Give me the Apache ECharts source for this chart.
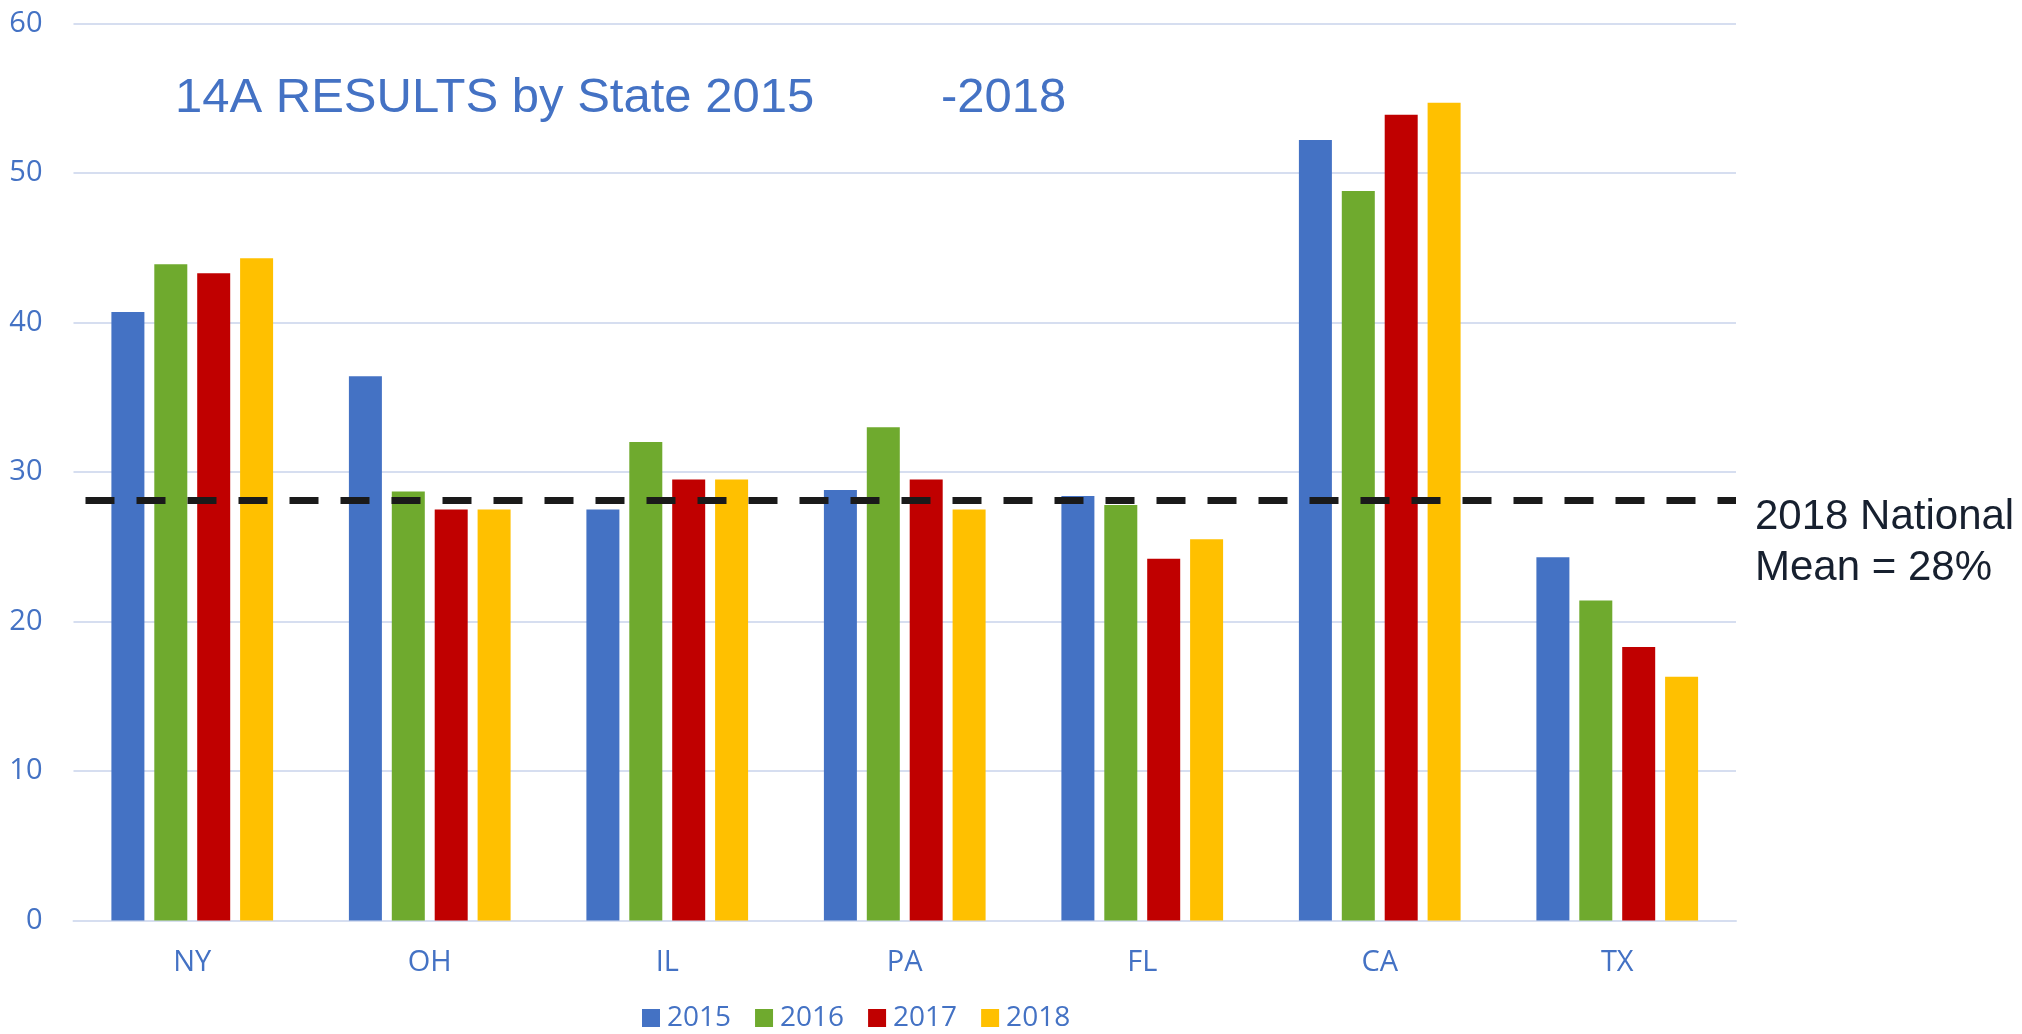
<!DOCTYPE html>
<html>
<head>
<meta charset="utf-8">
<script src="https://cdn.jsdelivr.net/npm/echarts@6/dist/echarts.min.js"></script>
<style>
  html, body { margin: 0; padding: 0; background: #fff; }
  #chart { width: 2022px; height: 1034px; }
</style>
</head>
<body>
<div id="chart"></div>
<script>
const states = ['NY', 'OH', 'IL', 'PA', 'FL', 'CA', 'TX'];
const years = ['2015', '2016', '2017', '2018'];
const v2015 = [40.7, 36.4, 27.5, 28.8, 28.4, 52.2, 24.3];
const v2016 = [43.9, 28.7, 32.0, 33.0, 27.8, 48.8, 21.4];
const v2017 = [43.3, 27.5, 29.5, 29.5, 24.2, 53.9, 18.3];
const v2018 = [44.3, 27.5, 29.5, 27.5, 25.5, 54.7, 16.3];
const nationalMean = 28.1;

const colors = ['#4472C4', '#6FAA2E', '#C00000', '#FFC000'];
const axisFont = 'Open Sans';

const chart = echarts.init(document.getElementById('chart'));

const barSeries = [v2015, v2016, v2017, v2018].map((data, i) => ({
  name: years[i],
  type: 'bar',
  data: data,
  barWidth: 33,
  barGap: '30%',
  itemStyle: {color: colors[i]},
  emphasis: {disabled: true},
}));

// dashed national mean line
barSeries[0].markLine = {
  silent: true,
  symbol: 'none',
  label: {show: false},
  lineStyle: {
    color: '#1a1a1a',
    width: 7,
    type: [29, 22],
    dashOffset: 39,
  },
  data: [{yAxis: nationalMean}],
};

const titleStyle = {
  fontFamily: 'Liberation Sans',
  fontSize: 49,
  fontWeight: 'normal',
  color: '#4472C4',
};

chart.setOption({
  animation: false,
  title: [
    {text: '14A RESULTS by State 2015', left: 175, top: 74, padding: 0, textStyle: titleStyle},
    {text: '-2018', left: 941, top: 74, padding: 0, textStyle: titleStyle},
  ],
  grid: {
    left: 73.5,
    right: 286,
    top: 23.5,
    bottom: 113.5,
  },
  legend: {
    data: years,
    left: 642,
    top: 1004,
    padding: 0,
    icon: 'rect',
    itemWidth: 18,
    itemHeight: 18,
    itemGap: 24,
    textStyle: {
      fontFamily: axisFont,
      fontSize: 28,
      color: '#4472C4',
      padding: [0, 0, 0, 2],
    },
  },
  xAxis: {
    type: 'category',
    data: states,
    axisLine: {lineStyle: {color: '#D6DEF0', width: 2}},
    axisTick: {show: false},
    axisLabel: {
      fontFamily: axisFont,
      fontSize: 29,
      color: '#4472C4',
      margin: 28,
    },
  },
  yAxis: {
    type: 'value',
    min: 0,
    max: 60,
    interval: 10,
    axisLine: {show: false},
    axisTick: {show: false},
    splitLine: {lineStyle: {color: '#D6DEF0', width: 2}},
    axisLabel: {
      fontFamily: axisFont,
      fontSize: 29,
      color: '#4472C4',
      margin: 31,
    },
  },
  graphic: [
    {
      type: 'text',
      left: 1755,
      top: 492,
      style: {
        text: '2018 National\nMean = 28%',
        fontFamily: 'Liberation Sans',
        fontSize: 42,
        lineHeight: 51,
        fill: '#17202F',
      },
    },
  ],
  series: barSeries,
});
</script>
</body>
</html>
